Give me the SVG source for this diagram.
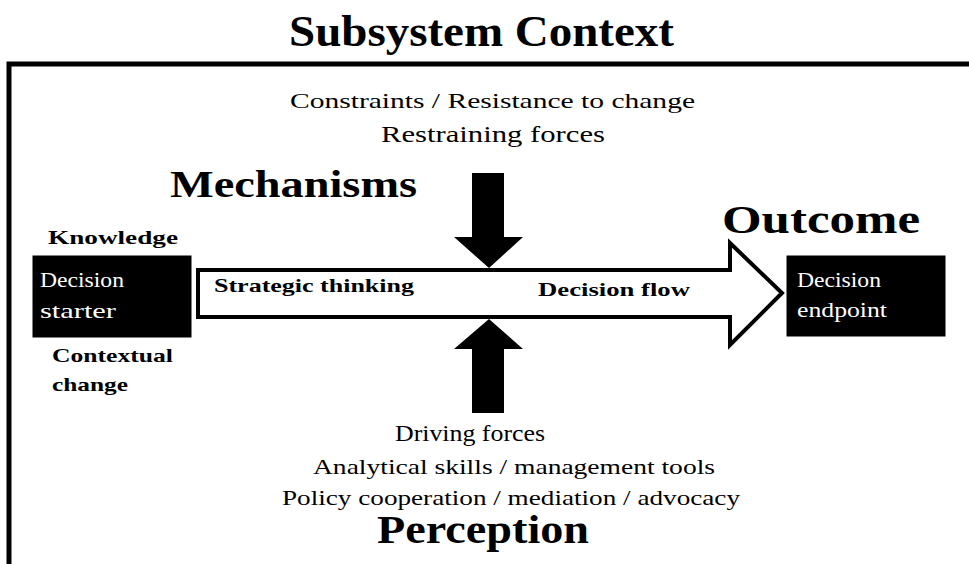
<svg xmlns="http://www.w3.org/2000/svg" width="969" height="564" viewBox="0 0 969 564">
<style>
text { font-family: 'Liberation Serif', 'Times New Roman', serif; fill: #000; }
.b { font-weight: bold; }
.w { fill: #fff; }
.box { fill: #000; stroke: #000; }
</style>
<rect x="0" y="0" width="969" height="564" fill="#fff"/>
<g id="frame">
<path d="M9 564 V64 H969" fill="none" stroke="#000" stroke-width="5"/>
</g>
<text x="289" y="46" class="b" font-size="44" textLength="385" lengthAdjust="spacingAndGlyphs">Subsystem  Context</text>
<g id="connectors">
<path id="flow-arrow" d="M198 270 H730 V243 L782 293 L730 345 V317 H198 Z" fill="#fff" stroke="#000" stroke-width="4" stroke-linejoin="miter"/>
<path id="down-arrow" d="M472 173 H504 V237 H523 L489 268 L454 237 H472 Z" fill="#000"/>
<path id="up-arrow" d="M472 413 H504 V349 H523 L489 319 L454 349 H472 Z" fill="#000"/>
</g>
<g id="restraining">
<text x="290" y="108" font-size="22" textLength="405" lengthAdjust="spacingAndGlyphs">Constraints / Resistance to change</text>
<text x="381" y="142" font-size="23" textLength="224" lengthAdjust="spacingAndGlyphs">Restraining forces</text>
</g>
<g id="mechanisms">
<text x="170" y="197" class="b" font-size="38" textLength="247" lengthAdjust="spacingAndGlyphs">Mechanisms</text>
</g>
<g id="decision-starter">
<rect class="box" x="33" y="256" width="158" height="81"/>
<text x="40" y="287" class="w" font-size="21" textLength="84" lengthAdjust="spacingAndGlyphs">Decision</text>
<text x="40" y="318" class="w" font-size="21" textLength="76" lengthAdjust="spacingAndGlyphs">starter</text>
</g>
<g id="knowledge">
<text x="48" y="244" class="b" font-size="19" textLength="130" lengthAdjust="spacingAndGlyphs">Knowledge</text>
</g>
<g id="contextual-change">
<text x="52" y="362" class="b" font-size="19" textLength="121" lengthAdjust="spacingAndGlyphs">Contextual</text>
<text x="52" y="391" class="b" font-size="19" textLength="76" lengthAdjust="spacingAndGlyphs">change</text>
</g>
<g id="strategic-thinking">
<text x="214" y="292" class="b" font-size="19" textLength="200" lengthAdjust="spacingAndGlyphs">Strategic thinking</text>
</g>
<g id="decision-flow">
<text x="538" y="296" class="b" font-size="19" textLength="152" lengthAdjust="spacingAndGlyphs">Decision flow</text>
</g>
<g id="outcome">
<text x="722" y="233" class="b" font-size="40" textLength="198" lengthAdjust="spacingAndGlyphs">Outcome</text>
</g>
<g id="decision-endpoint">
<rect class="box" x="787" y="256" width="158" height="80"/>
<text x="797" y="287" class="w" font-size="21" textLength="84" lengthAdjust="spacingAndGlyphs">Decision</text>
<text x="797" y="317" class="w" font-size="21" textLength="90" lengthAdjust="spacingAndGlyphs">endpoint</text>
</g>
<g id="driving">
<text x="395" y="441" font-size="24" textLength="150" lengthAdjust="spacingAndGlyphs">Driving forces</text>
<text x="313" y="474" font-size="22" textLength="402" lengthAdjust="spacingAndGlyphs">Analytical skills / management tools</text>
<text x="282" y="505" font-size="22" textLength="458" lengthAdjust="spacingAndGlyphs">Policy cooperation / mediation / advocacy</text>
</g>
<g id="perception">
<text x="377" y="543" class="b" font-size="40" textLength="212" lengthAdjust="spacingAndGlyphs">Perception</text>
</g>
</svg>
